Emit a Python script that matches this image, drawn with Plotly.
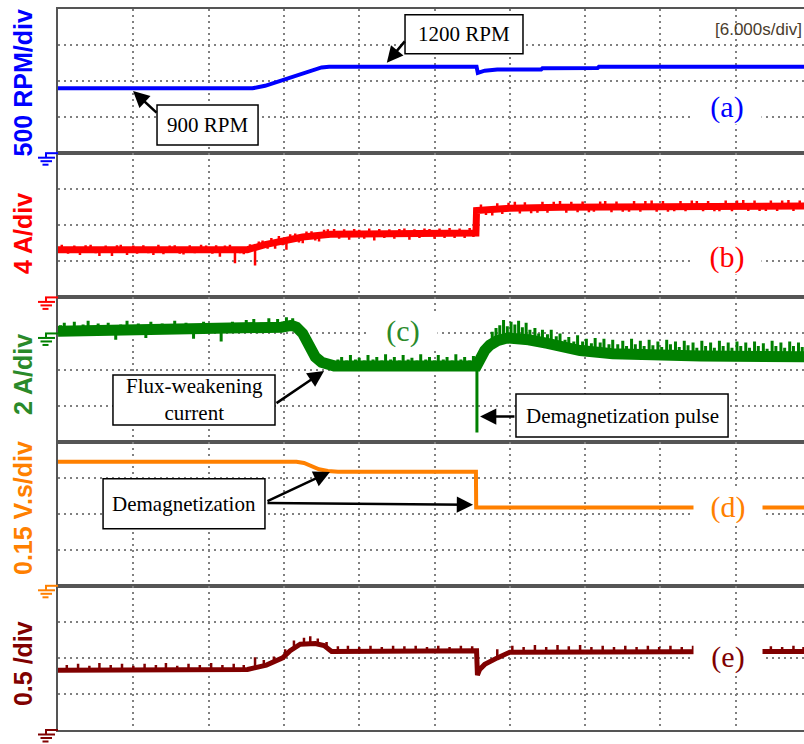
import plotly.graph_objects as go
from plotly.subplots import make_subplots

# ---- time base: 6 s/div, ten divisions (the last one is cut at the page edge)
T_END = 59.44
T_DIV = 6

# ---- (a) rotor speed, RPM
SPEED_T = [0, 15.5, 16.5, 18.0, 19.5, 21.0, 21.6, 33.35, 33.45, 34.0, 35.0,
           38.5, 38.6, 43.0, 43.1, 59.5]
SPEED_RPM = [900, 900, 935, 1020, 1110, 1190, 1200, 1200, 1115, 1145, 1160,
             1162, 1178, 1182, 1198, 1200]

# ---- (b) phase current amplitude, A  (mean trace + ripple spikes)
CURRENT_T = [0, 15.1, 16.5, 18.0, 19.5, 21.7, 33.3, 33.35, 36.0, 40.0, 50.0, 59.5]
CURRENT_A = [5.3, 5.3, 5.85, 6.35, 6.7, 7.0, 7.15, 9.65, 9.9, 10.0, 10.1, 10.15]
CURRENT_SPIKE_T = [
    0.3, 0.8, 1.3, 1.75, 2.2, 2.6, 3.0, 3.3, 3.8, 4.3, 4.7, 5.0, 5.5, 6.0, 6.3,
    6.8, 7.2, 7.6, 8.0, 8.4, 8.9, 9.3, 9.7, 10.0, 10.5, 10.9, 11.4, 11.8, 12.3,
    12.6, 12.9, 13.3, 13.7, 14.1, 14.5, 14.8,
    15.3, 15.7, 16.0, 16.3, 16.7, 17.0, 17.3, 17.6, 17.9, 18.2, 18.5, 18.9,
    19.2, 19.5, 19.8, 20.2, 20.5, 20.8, 21.2, 21.5,
    22.0, 22.4, 22.8, 23.2, 23.6, 24.0, 24.4, 24.8, 25.2, 25.6, 26.0, 26.4,
    26.8, 27.2, 27.6, 28.0, 28.4, 28.8, 29.2, 29.6, 30.0, 30.4, 30.8, 31.2,
    31.6, 32.0, 32.4, 32.8, 33.1,
    33.7, 34.1, 34.6, 35.0, 35.4, 35.9, 36.4, 36.8, 37.2, 37.7, 38.2, 38.6,
    39.0, 39.5, 40.0, 40.5, 40.9, 41.4, 41.8, 42.3, 42.7, 43.2, 43.6, 44.1,
    44.5, 45.0, 45.5, 45.9, 46.4, 46.8, 47.3, 47.7, 48.2, 48.6, 49.1, 49.6,
    50.0, 50.5, 50.9, 51.4, 51.8, 52.3, 52.7, 53.2, 53.7, 54.1, 54.6, 55.0,
    55.5, 55.9, 56.4, 56.8, 57.3, 57.7, 58.2, 58.6, 59.1]
CURRENT_SPIKE_BASE = [
    5.3, 5.3, 5.3, 5.3, 5.3, 5.3, 5.3, 5.3, 5.3, 5.3, 5.3, 5.3, 5.3, 5.3, 5.3,
    5.3, 5.3, 5.3, 5.3, 5.3, 5.3, 5.3, 5.3, 5.3, 5.3, 5.3, 5.3, 5.3, 5.3,
    5.3, 5.3, 5.3, 5.3, 5.3, 5.3, 5.3,
    5.4, 5.5, 5.65, 5.75, 5.9, 6.05, 6.15, 6.25, 6.33, 6.4, 6.47, 6.55,
    6.62, 6.7, 6.75, 6.8, 6.85, 6.9, 6.95, 7.0,
    7.05, 7.05, 7.05, 7.05, 7.05, 7.05, 7.05, 7.05, 7.05, 7.05, 7.05, 7.05,
    7.05, 7.05, 7.05, 7.1, 7.1, 7.1, 7.1, 7.1, 7.1, 7.1, 7.1, 7.15,
    7.15, 7.15, 7.15, 7.15, 7.15,
    9.7, 9.72, 9.75, 9.78, 9.82, 9.87, 9.9, 9.92, 9.93, 9.94, 9.95, 9.96,
    9.97, 9.98, 10.0, 10.0, 10.0, 10.01, 10.02, 10.03, 10.04, 10.04, 10.05, 10.05,
    10.06, 10.06, 10.07, 10.07, 10.08, 10.08, 10.09, 10.09, 10.1, 10.1, 10.1, 10.1,
    10.1, 10.11, 10.11, 10.12, 10.12, 10.12, 10.13, 10.13, 10.13, 10.14, 10.14, 10.14,
    10.14, 10.15, 10.15, 10.15, 10.15, 10.15, 10.15, 10.15, 10.15]
CURRENT_SPIKE_TIP = [
    5.85, 4.85, 5.75, 4.7, 5.8, 5.85, 4.9, 4.6, 5.75, 4.6, 5.8, 5.85, 4.7, 5.75, 4.85,
    5.8, 4.9, 4.7, 5.85, 4.8, 5.75, 5.8, 4.85, 4.75, 5.8, 4.9, 5.85, 5.75, 4.85,
    5.8, 4.5, 5.75, 5.85, 3.8, 4.9, 4.8,
    5.9, 3.55, 6.2, 6.3, 5.4, 6.6, 5.4, 6.8, 5.8, 5.3, 7.0, 7.1,
    6.1, 6.0, 7.3, 7.35, 6.3, 6.2, 7.5, 7.55,
    7.6, 6.5, 7.55, 6.4, 7.6, 7.5, 6.5, 7.65, 6.3, 7.6, 6.6, 7.55,
    6.5, 7.6, 7.65, 6.4, 7.55, 6.6, 7.65, 7.6, 6.5, 7.65, 6.6, 7.7,
    6.6, 7.65, 6.6, 7.7, 6.7,
    10.3, 9.15, 9.1, 10.45, 9.25, 10.5, 10.6, 9.3, 10.55, 9.35, 9.4, 10.6,
    9.4, 10.6, 10.7, 9.4, 10.6, 9.45, 10.65, 9.45, 9.5, 10.65, 10.7, 9.45,
    10.65, 9.5, 9.5, 10.7, 9.5, 10.7, 10.75, 9.5, 10.7, 9.5, 9.55, 10.7,
    9.55, 10.75, 10.7, 9.55, 10.7, 9.55, 9.55, 10.75, 9.55, 10.75, 10.8, 9.6,
    10.75, 9.6, 9.6, 10.75, 9.6, 10.75, 10.8, 9.6, 10.75]

# ---- (c) d-axis (flux-weakening) current, A  (mean trace + ripple spikes)
DCURR_T = [0, 16.5, 17.8, 18.6, 19.0, 19.5, 20.0, 20.5, 21.0, 21.5, 22.0,
           33.35, 33.45, 33.7, 34.0, 34.4, 35.0, 35.8, 36.5, 37.5, 39.0, 40.2,
           41.6, 44.2, 47.0, 51.2, 59.5]
DCURR_A = [0.12, 0.2, 0.35, 0.45, 0.35, 0.0, -0.8, -1.3, -1.6, -1.78, -1.8,
           -1.8, -1.6, -1.3, -0.95, -0.65, -0.4, -0.25, -0.25, -0.35, -0.55, -0.8,
           -0.95, -1.12, -1.2, -1.25, -1.3]
DCURR_SPIKE_T = [
    0.2, 0.5, 0.9, 1.3, 1.7, 2.0, 2.4, 2.8, 3.2, 3.6, 4.0, 4.6, 5.0, 5.3, 5.5,
    5.9, 6.4, 6.7, 7.0, 7.4, 7.8, 8.3, 8.7, 9.3, 9.7, 10.2, 10.5, 10.8, 11.2,
    11.6, 12.0, 12.5, 13.0, 13.4, 13.9, 14.2, 14.6, 15.0, 15.3, 15.6, 15.9,
    16.2, 16.5, 16.8, 17.2, 17.5, 17.9, 18.2, 18.5, 18.7,
    22.3, 22.6, 23.0, 23.3, 23.7, 24.0, 24.4, 24.7, 25.1, 25.4, 25.8, 26.1,
    26.5, 26.8, 27.2, 27.5, 27.9, 28.2, 28.6, 28.9, 29.3, 29.6, 30.0, 30.3,
    30.7, 31.0, 31.4, 31.7, 32.1, 32.4, 32.8, 33.1,
    34.6, 34.9, 35.2, 35.5, 35.8, 36.1, 36.4, 36.7, 37.0, 37.3, 37.6, 38.0,
    38.3, 38.6, 39.0, 39.3, 39.7, 40.0, 40.4, 40.7, 41.1, 41.4, 41.8, 42.1,
    42.5, 42.8, 43.2, 43.5, 43.9, 44.2, 44.6, 45.0, 45.3, 45.7, 46.0, 46.4,
    46.7, 47.1, 47.4, 47.8, 48.1, 48.5, 48.8, 49.2, 49.5, 49.9, 50.2, 50.6,
    50.9, 51.3, 51.6, 52.0, 52.3, 52.7, 53.0, 53.4, 53.7, 54.1, 54.4, 54.8,
    55.1, 55.5, 55.8, 56.2, 56.5, 56.9, 57.2, 57.6, 57.9, 58.3, 58.6, 59.0, 59.3]
DCURR_SPIKE_BASE = [
    0.12, 0.12, 0.12, 0.12, 0.12, 0.12, 0.12, 0.12, 0.12, 0.12, 0.12, 0.12, 0.12,
    0.12, 0.12, 0.12, 0.12, 0.12, 0.12, 0.12, 0.12, 0.12, 0.12, 0.12, 0.12, 0.12,
    0.12, 0.12, 0.14, 0.14, 0.14, 0.14, 0.14, 0.14, 0.15, 0.15, 0.16, 0.16, 0.16,
    0.17, 0.17, 0.18, 0.2, 0.22, 0.26, 0.3, 0.35, 0.4, 0.44, 0.45,
    -1.8, -1.8, -1.8, -1.8, -1.8, -1.8, -1.8, -1.8, -1.8, -1.8, -1.8, -1.8,
    -1.8, -1.8, -1.8, -1.8, -1.8, -1.8, -1.8, -1.8, -1.8, -1.8, -1.8, -1.8,
    -1.8, -1.8, -1.8, -1.8, -1.8, -1.8, -1.8, -1.8,
    -0.6, -0.48, -0.38, -0.32, -0.26, -0.25, -0.25, -0.25, -0.28, -0.32, -0.36, -0.4,
    -0.44, -0.48, -0.55, -0.6, -0.66, -0.75, -0.82, -0.86, -0.9, -0.93, -0.96, -0.98,
    -1.0, -1.03, -1.06, -1.08, -1.1, -1.12, -1.13, -1.14, -1.15, -1.15, -1.16, -1.18,
    -1.19, -1.2, -1.2, -1.2, -1.21, -1.21, -1.22, -1.22, -1.23, -1.23, -1.24, -1.24,
    -1.25, -1.25, -1.25, -1.25, -1.26, -1.26, -1.26, -1.26, -1.27, -1.27, -1.27, -1.27,
    -1.28, -1.28, -1.28, -1.28, -1.29, -1.29, -1.29, -1.29, -1.3, -1.3, -1.3, -1.3, -1.3]
DCURR_SPIKE_TIP = [
    0.45, 0.6, 0.4, 0.65, 0.35, 0.5, 0.7, 0.4, 0.55, 0.35, 0.6, -0.35, 0.5,
    0.4, 0.7, 0.45, 0.55, 0.4, -0.25, 0.65, 0.4, 0.55, 0.45, 0.7, 0.4, 0.6,
    0.4, -0.3, 0.45, 0.65, 0.4, 0.55, -0.45, 0.45, 0.65, 0.4, 0.55, 0.75, 0.5,
    0.8, 0.45, 0.6, 0.5, 0.85, 0.55, 0.8, 0.6, 0.9, 0.7, 0.85,
    -1.45, -1.3, -1.5, -1.2, -1.45, -1.35, -1.5, -1.2, -1.45, -1.3, -1.5, -1.15,
    -1.45, -1.3, -1.5, -1.2, -1.45, -1.35, -1.5, -1.15, -1.45, -1.3, -1.5, -1.2,
    -1.45, -1.3, -1.5, -1.15, -1.45, -1.3, -1.5, -1.25,
    0.1, 0.3, 0.45, 0.75, 0.4, 0.65, 0.5, 0.7, 0.35, 0.6, 0.2, 0.3,
    0.0, 0.2, -0.05, 0.2, -0.15, 0.0, -0.35, -0.2, -0.45, -0.1, -0.45, -0.3,
    -0.55, -0.25, -0.5, -0.3, -0.6, -0.35, -0.6, -0.4, -0.7, -0.3, -0.6, -0.4,
    -0.7, -0.35, -0.65, -0.45, -0.75, -0.35, -0.6, -0.45, -0.75, -0.4, -0.65, -0.5,
    -0.8, -0.4, -0.7, -0.5, -0.8, -0.4, -0.7, -0.5, -0.8, -0.45, -0.7, -0.5,
    -0.8, -0.45, -0.7, -0.55, -0.85, -0.4, -0.7, -0.5, -0.8, -0.45, -0.7, -0.5, -0.75]
PULSE_T = [33.38, 33.38]
PULSE_A = [-1.7, -5.5]

# ---- (d) PM flux linkage, V.s
FLUX_T = [0, 19.0, 19.6, 20.2, 20.8, 21.5, 22.3, 33.3, 33.32, 59.5]
FLUX_VS = [0.516, 0.516, 0.511, 0.498, 0.485, 0.478, 0.475, 0.475, 0.326, 0.326]

# ---- (e) modulation index  (mean trace + ripple spikes)
MOD_T = [0, 15.1, 16.6, 17.9, 18.5, 19.3, 20.5, 21.2, 21.8, 33.35, 33.42, 33.6,
         34.0, 34.4, 35.0, 36.0, 59.5]
MOD_V = [0.83, 0.84, 0.9, 1.0, 1.1, 1.19, 1.2, 1.17, 1.09, 1.1, 0.76, 0.84,
         0.91, 0.95, 1.0, 1.08, 1.09]
MOD_SPIKE_T = [0.7, 1.6, 2.5, 3.3, 4.2, 5.1, 6.0, 6.9, 7.8, 8.6, 9.5, 10.4,
               11.3, 12.2, 13.1, 14.0, 14.8, 15.7, 16.4, 17.2, 18.1, 18.8,
               19.6, 20.1, 20.7, 21.4, 22.3, 23.1, 24.0, 24.9, 25.8, 26.7,
               27.6, 28.5, 29.4, 30.3, 31.2, 32.1, 33.0, 35.0, 36.2, 37.1,
               38.0, 38.9, 39.8, 40.7, 41.6, 42.5, 43.4, 44.3, 45.2, 46.1,
               47.0, 47.9, 48.8, 49.7, 50.6, 56.8, 57.7, 58.6, 59.4]
MOD_SPIKE_BASE = [0.83, 0.83, 0.83, 0.83, 0.83, 0.83, 0.83, 0.83, 0.83, 0.83,
                  0.83, 0.83, 0.83, 0.83, 0.83, 0.84, 0.84, 0.86, 0.89, 0.94,
                  1.03, 1.14, 1.2, 1.2, 1.19, 1.15, 1.09, 1.09, 1.09, 1.09,
                  1.09, 1.1, 1.1, 1.1, 1.1, 1.1, 1.1, 1.1, 1.1, 1.0,
                  1.08, 1.08, 1.08, 1.08, 1.08, 1.08, 1.08, 1.08, 1.08, 1.08,
                  1.09, 1.09, 1.09, 1.09, 1.09, 1.09, 1.09, 1.09, 1.09, 1.09, 1.09]
MOD_SPIKE_TIP = [0.9, 0.92, 0.89, 0.93, 0.9, 0.92, 0.89, 0.92, 0.9, 0.93,
                 0.89, 0.92, 0.9, 0.93, 0.9, 0.92, 0.9, 1.01, 0.97, 1.02,
                 1.12, 1.24, 1.28, 1.3, 1.27, 1.22, 1.16, 1.17, 1.15, 1.17,
                 1.15, 1.17, 1.16, 1.17, 1.15, 1.17, 1.15, 1.17, 1.16, 1.12,
                 1.17, 1.15, 1.18, 1.15, 1.18, 1.16, 1.18, 1.15, 1.17, 1.15,
                 1.17, 1.15, 1.17, 1.15, 1.17, 1.15, 1.17, 1.16, 1.15, 1.17, 1.15]

# ---- channel settings (one row per channel)
RANGES = [(0, 2000), (0, 16), (-6, 2), (0, 0.6), (0, 2)]
PER_DIV = [500, 4, 2, 0.15, 0.5]
COLORS = ["#0000ff", "#ff0000", "#008000", "#ff8000", "#800000"]
TITLE_COLORS = ["#0000ff", "#ff0000", "#2a8a2a", "#ff8000", "#800000"]
TITLES = ["500 RPM/div", "4 A/div", "2 A/div", "0.15 V.s/div", "0.5 /div"]
TITLE_Y = [0.8967, 0.688, 0.4924, 0.3079, 0.0915]
TAGS = ["(a)", "(b)", "(c)", "(d)", "(e)"]
TAG_POS = [(53.3, 642), (53.3, 4.49), (27.5, 0.14), (53.4, 0.328), (53.4, 1.01)]

GRID = "#808080"
BORDER = "#555555"
SERIF = "Liberation Serif"
SANS = "Liberation Sans"


def spike_segments(ts, lows, highs):
    """Vertical ripple strokes, one per sample, separated by gaps."""
    xs, ys = [], []
    for t, lo, hi in zip(ts, lows, highs):
        xs += [t, t, None]
        ys += [lo, hi, None]
    return xs, ys


fig = make_subplots(rows=5, cols=1, shared_xaxes=True, vertical_spacing=0)


def add_line(x, y, row, color, width):
    fig.add_trace(go.Scatter(x=x, y=y, mode="lines", connectgaps=False,
                             line=dict(color=color, width=width)), row=row, col=1)


add_line(SPEED_T, SPEED_RPM, 1, COLORS[0], 4)

add_line(CURRENT_T, CURRENT_A, 2, COLORS[1], 7)
add_line(*spike_segments(CURRENT_SPIKE_T, CURRENT_SPIKE_BASE, CURRENT_SPIKE_TIP),
         2, COLORS[1], 2.5)

add_line(DCURR_T, DCURR_A, 3, COLORS[2], 11)
add_line(*spike_segments(DCURR_SPIKE_T, DCURR_SPIKE_BASE, DCURR_SPIKE_TIP),
         3, COLORS[2], 3)
add_line(PULSE_T, PULSE_A, 3, COLORS[2], 3)

add_line(FLUX_T, FLUX_VS, 4, COLORS[3], 4)

add_line(MOD_T, MOD_V, 5, COLORS[4], 5)
add_line(*spike_segments(MOD_SPIKE_T, MOD_SPIKE_BASE, MOD_SPIKE_TIP),
         5, COLORS[4], 2.5)

fig.update_xaxes(range=[0, T_END], tick0=0, dtick=T_DIV, showgrid=True,
                 gridcolor=GRID, griddash="2px,4px", gridwidth=1.5,
                 zeroline=False, showticklabels=False, ticks="",
                 showline=True, linecolor=BORDER, linewidth=2, mirror=True)

for i, (lo, hi) in enumerate(RANGES):
    fig.update_yaxes(range=[lo, hi], tick0=lo, dtick=PER_DIV[i], showgrid=True,
                     gridcolor=GRID, griddash="2px,4px", gridwidth=1.5,
                     zeroline=False, showticklabels=False, ticks="",
                     showline=True, linecolor=BORDER, linewidth=2,
                     row=i + 1, col=1)

# ground (zero-level) markers at the left edge of every channel
GROUND_GLYPH = [(-13, 0, 0, 0), (-12, 0, -12, -4.5), (-20, -4.5, -3, -4.5),
                (-17.5, -8, -6, -8), (-15.5, -11.5, -9.5, -11.5)]
for i, (lo, hi) in enumerate(RANGES):
    yref = "y domain" if i == 0 else f"y{i + 1} domain"
    frac = (0 - lo) / (hi - lo)
    for gx0, gy0, gx1, gy1 in GROUND_GLYPH:
        fig.add_shape(type="line", xref="paper", xsizemode="pixel", xanchor=0,
                      x0=gx0, x1=gx1, yref=yref, ysizemode="pixel",
                      yanchor=frac, y0=gy0, y1=gy1,
                      line=dict(color=COLORS[i], width=2), layer="above")

annotations = []

# channel scale titles
for i, txt in enumerate(TITLES):
    annotations.append(dict(xref="paper", yref="paper", x=-0.0469, y=TITLE_Y[i],
                            text=f"<b>{txt}</b>", textangle=-90, showarrow=False,
                            xanchor="center", yanchor="middle",
                            font=dict(family=SANS, size=25, color=TITLE_COLORS[i])))

# channel tags
for i, tag in enumerate(TAGS):
    ax_id = "" if i == 0 else str(i + 1)
    annotations.append(dict(xref="x" + ax_id, yref="y" + ax_id,
                            x=TAG_POS[i][0], y=TAG_POS[i][1], text=tag,
                            showarrow=False, bgcolor="white", width=68, height=34,
                            borderpad=0,
                            font=dict(family=SERIF, size=30, color=TITLE_COLORS[i])))

annotations.append(dict(xref="paper", yref="paper", x=1.0, y=0.971,
                        text="[6.000s/div]", showarrow=False, xanchor="right",
                        yanchor="middle",
                        font=dict(family=SANS, size=17, color="#4a3c2c")))

# callout boxes: (row, t0, t1, v0, v1, text, t_center, v_center)
CALLOUTS = [
    (1, 7.89, 15.94, 114, 669, "900 RPM", 11.91, 392),
    (1, 27.65, 37.05, 1378, 1919, "1200 RPM", 32.35, 1649),
    (3, 4.38, 17.29, -5.08, -2.31, "Flux-weakening<br>current", 10.84, -3.69),
    (3, 36.49, 53.39, -5.75, -3.36, "Demagnetization pulse", 44.94, -4.56),
    (4, 3.59, 16.49, 0.237, 0.445, "Demagnetization", 10.04, 0.341),
]
for row, t0, t1, v0, v1, txt, tc, vc in CALLOUTS:
    ax_id = "" if row == 1 else str(row)
    fig.add_shape(type="rect", xref="x" + ax_id, yref="y" + ax_id,
                  x0=t0, x1=t1, y0=v0, y1=v1, fillcolor="white",
                  line=dict(color="black", width=1.5), layer="above")
    annotations.append(dict(xref="x" + ax_id, yref="y" + ax_id, x=tc, y=vc,
                            text=txt, showarrow=False,
                            font=dict(family=SERIF, size=21, color="black")))

# arrows: (row, tip_t, tip_v, tail_t, tail_v)
ARROWS = [
    (1, 5.98, 864, 7.97, 544),
    (1, 26.2, 1253, 27.73, 1572),
    (3, 21.2, -2.08, 17.29, -3.92),
    (3, 33.63, -4.61, 36.49, -4.61),
    (4, 21.67, 0.474, 16.57, 0.349),
    (4, 33.07, 0.337, 16.57, 0.345),
]
for row, xt, yt, xs, ys in ARROWS:
    ax_id = "" if row == 1 else str(row)
    annotations.append(dict(xref="x" + ax_id, yref="y" + ax_id,
                            axref="x" + ax_id, ayref="y" + ax_id,
                            x=xt, y=yt, ax=xs, ay=ys, text="", showarrow=True,
                            arrowhead=2, arrowsize=1.3, arrowwidth=2.5,
                            arrowcolor="black", standoff=0, startstandoff=0))

fig.update_layout(width=804, height=744, showlegend=False,
                  margin=dict(l=58, r=0, t=9, b=14),
                  paper_bgcolor="white", plot_bgcolor="white",
                  annotations=annotations)

fig.write_html("out.html")
